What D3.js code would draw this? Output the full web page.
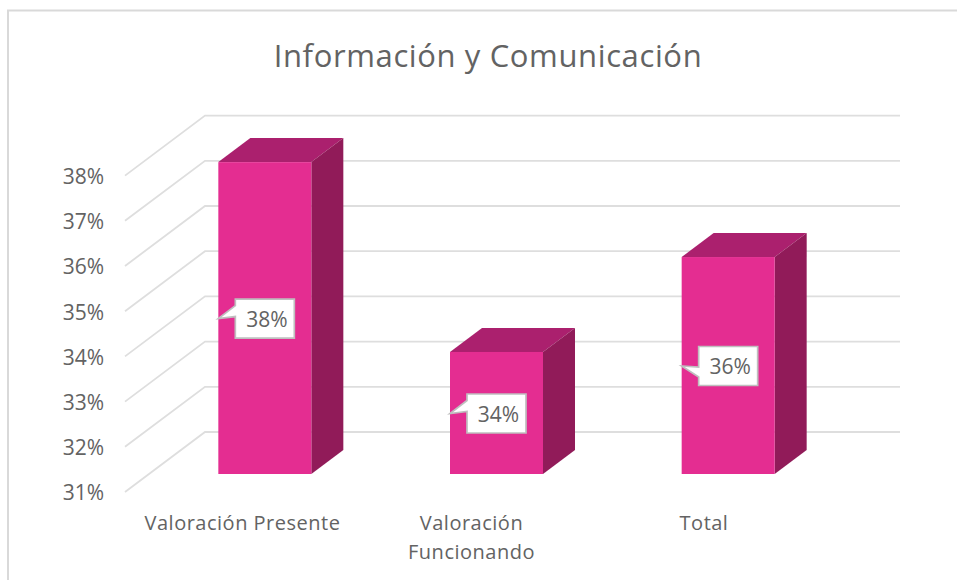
<!DOCTYPE html>
<html><head><meta charset="utf-8">
<script src="https://cdn.jsdelivr.net/npm/d3@7"></script>
<style>html,body{margin:0;padding:0;background:#fff}svg{display:block}text{font-family:"Open Sans",sans-serif;fill:#636363}</style>
</head><body><div id="c"></div>
<script>
const titleText = "Información y Comunicación";
const categories = ["Valoración Presente", "Valoración Funcionando", "Total"];
const values = [0.379, 0.337, 0.358];
const tickValues = [0.31, 0.32, 0.33, 0.34, 0.35, 0.36, 0.37, 0.38];
const catLines = [["Valoración Presente"], ["Valoración", "Funcionando"], ["Total"]];

const W = 957, H = 580;
const svg = d3.select("#c").append("svg").attr("width", W).attr("height", H);
svg.append("rect").attr("width", W).attr("height", H).attr("fill", "#fff");
svg.append("path").attr("d", "M8 580V10.5H957").attr("fill", "none").attr("stroke", "#d9d9d9").attr("stroke-width", 2);

svg.append("text").attr("x", 488).attr("y", 67).attr("text-anchor", "middle").attr("font-size", 31)
  .attr("letter-spacing", 0.62).text(titleText);

const yFront = d3.scaleLinear().domain([0.31, 0.38]).range([492, 175.6]);
const depthX = 80, depthY = -60;
const xStep = d3.scaleBand().domain(categories).range([125, 820]);

svg.append("g").selectAll("path").data(tickValues).join("path")
  .attr("d", d => { const y = yFront(d); return `M125 ${y}L${125 + depthX} ${y + depthY}H900`; })
  .attr("fill", "none").attr("stroke", "#dedede").attr("stroke-width", 1.8);

svg.append("g").selectAll("text").data(tickValues).join("text")
  .attr("x", 104).attr("y", d => yFront(d) + 1).attr("dy", "0.35em").attr("text-anchor", "end")
  .attr("font-size", 21).text(d3.format(".0%"));

const t0 = 0.3, t1 = 0.7, barW = 93;
const g = svg.append("g").selectAll("g").data(categories).join("g");
const dx0 = depthX * t0, dy0 = depthY * t0, ddx = depthX * (t1 - t0), ddy = depthY * (t1 - t0);
const barLeft = c => xStep(c) + xStep.bandwidth() / 2 - barW / 2 + dx0;
const barTop = i => yFront(values[i]) + dy0;
const barBase = yFront(0.31) + dy0;
g.append("path").attr("fill", "#ab206e").attr("d", (c, i) => {
  const l = barLeft(c), t = barTop(i);
  return `M${l} ${t}l${ddx} ${ddy}h${barW}l${-ddx} ${-ddy}Z`;
});
g.append("path").attr("fill", "#911b59").attr("d", (c, i) => {
  const l = barLeft(c) + barW, t = barTop(i);
  return `M${l} ${t}l${ddx} ${ddy}V${barBase + ddy}L${l} ${barBase}Z`;
});
g.append("rect").attr("fill", "#e42d91").attr("x", c => barLeft(c)).attr("y", (c, i) => barTop(i))
  .attr("width", barW).attr("height", (c, i) => barBase - barTop(i));

const boxW = 59, boxH = 39;
const lab = g.append("g").attr("transform", (c, i) =>
  `translate(${barLeft(c) + barW / 2},${(barTop(i) + barBase) / 2 + 0.5})`);
lab.append("path").attr("fill", "#fff").attr("stroke", "#bfbfbf").attr("stroke-width", 1.7)
  .attr("d", (c, i) => {
    const hw = boxW / 2, hh = boxH / 2, tip = barW / 2;
    return i === 2
      ? `M${-hw} ${-hh}H${hw}V${hh}H${-hw}V11L${-tip} 0L${-hw} 1Z`
      : `M${-hw} ${-hh}H${hw}V${hh}H${-hw}V-2L${-tip} 0L${-hw} -13Z`;
  });
lab.append("text").attr("text-anchor", "middle").attr("dy", "0.35em").attr("font-size", 21)
  .attr("x", 2).attr("y", 1).text((c, i) => d3.format(".0%")(values[i]));

const catX = [242.5, 471.5, 704];
svg.append("g").selectAll("text").data(categories).join("text")
  .attr("text-anchor", "middle").attr("font-size", 20).attr("letter-spacing", 0.5)
  .each(function(c, i) {
    catLines[i].forEach((s, j) => d3.select(this).append("tspan").attr("x", catX[i]).attr("y", 530 + j * 29).text(s));
  });
</script></body></html>
